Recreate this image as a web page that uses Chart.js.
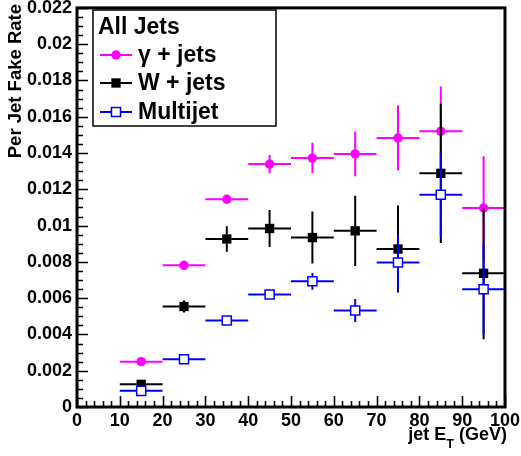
<!DOCTYPE html>
<html>
<head>
<meta charset="utf-8">
<script src="https://cdn.jsdelivr.net/npm/chart.js@4.4.0/dist/chart.umd.min.js"></script>
<style>
  html, body { margin: 0; padding: 0; background: #ffffff; }
  #c { display: block; }
</style>
</head>
<body>
<canvas id="c" width="521" height="456"></canvas>
<script>
// Jet ET bins (GeV): centres and half widths
const binCenters   = [15, 25, 35, 45, 55, 65, 75, 85, 95];
const binHalfWidth = [5, 5, 5, 5, 5, 5, 5, 5, 5];

// Per-jet fake rate and its uncertainty for each sample
const gammaRate  = [0.00250, 0.00781, 0.01145, 0.01339, 0.01372, 0.01395, 0.01483, 0.01520, 0.01097];
const gammaErr   = [0.00015, 0.00015, 0.00015, 0.00050, 0.00084, 0.00123, 0.00180, 0.00247, 0.00285];
const wRate      = [0.00125, 0.00554, 0.00926, 0.00984, 0.00934, 0.00971, 0.00871, 0.01288, 0.00737];
const wErr       = [0.00008, 0.00033, 0.00070, 0.00102, 0.00143, 0.00194, 0.00240, 0.00384, 0.00364];
const multiRate  = [0.00089, 0.00263, 0.00477, 0.00620, 0.00693, 0.00532, 0.00797, 0.01170, 0.00649];
const multiErr   = [0.00008, 0.00008, 0.00008, 0.00010, 0.00046, 0.00064, 0.00150, 0.00232, 0.00247];

const seriesLabels = ['\u03b3 + jets', 'W + jets', 'Multijet'];
const legendTitle  = 'All Jets';

const xTickLabels = ['0', '10', '20', '30', '40', '50', '60', '70', '80', '90', '100'];
const yTickLabels = ['0', '0.002', '0.004', '0.006', '0.008', '0.01', '0.012',
                     '0.014', '0.016', '0.018', '0.02', '0.022'];

const FONT = "'Liberation Sans', Arial, Helvetica, sans-serif";

function points(rates, errs) {
  return binCenters.map((x, i) => ({ x: x, y: rates[i], xe: binHalfWidth[i], ye: errs[i] }));
}

// Error bars drawn just before each dataset's markers; bars stop at the marker edge
const errorBars = {
  id: 'errorBars',
  beforeDatasetDraw(chart, args) {
    const ds = chart.data.datasets[args.index];
    const xs = chart.scales.x, ys = chart.scales.y;
    const ctx = chart.ctx;
    const gap = ds.barGap;
    ctx.save();
    ctx.strokeStyle = ds.barColor;
    ctx.lineWidth = 2;
    ctx.lineCap = 'butt';
    ds.data.forEach(p => {
      const cx = xs.getPixelForValue(p.x), cy = ys.getPixelForValue(p.y);
      const xl = xs.getPixelForValue(p.x - p.xe), xr = xs.getPixelForValue(p.x + p.xe);
      const yt = ys.getPixelForValue(p.y + p.ye), yb = ys.getPixelForValue(p.y - p.ye);
      ctx.beginPath();
      ctx.moveTo(xl, cy); ctx.lineTo(cx - gap, cy);
      ctx.moveTo(cx + gap, cy); ctx.lineTo(xr, cy);
      if (cy - yt > gap) {
        ctx.moveTo(cx, yt); ctx.lineTo(cx, cy - gap);
        ctx.moveTo(cx, cy + gap); ctx.lineTo(cx, yb);
      }
      ctx.stroke();
    });
    ctx.restore();
  }
};

// Frame, inward tick marks, axis titles and the legend box
const frameAndLegend = {
  id: 'frameAndLegend',
  afterDraw(chart) {
    const ctx = chart.ctx;
    const a = chart.chartArea;
    const xs = chart.scales.x, ys = chart.scales.y;
    ctx.save();

    // tick marks
    ctx.strokeStyle = '#000';
    ctx.lineWidth = 1.6;
    ctx.beginPath();
    for (let v = 0; v <= 100.0001; v += 2) {
      const px = Math.round(xs.getPixelForValue(v)) + 0.5;
      const major = Math.abs(v / 10 - Math.round(v / 10)) < 1e-6;
      ctx.moveTo(px, a.bottom);
      ctx.lineTo(px, a.bottom - (major ? 11 : 6));
    }
    for (let k = 0; k <= 44; k++) {
      const v = k * 0.0005;
      const py = Math.round(ys.getPixelForValue(v)) + 0.5;
      const major = k % 4 === 0;
      ctx.moveTo(a.left, py);
      ctx.lineTo(a.left + (major ? 11 : 6), py);
    }
    ctx.stroke();

    // frame
    ctx.lineWidth = 3;
    ctx.strokeRect(a.left, a.top, a.right - a.left, a.bottom - a.top);

    // x title with subscript
    ctx.fillStyle = '#000';
    ctx.textBaseline = 'alphabetic';
    const t1 = 'jet E', t3 = ' (GeV)';
    ctx.font = 'bold 12.5px ' + FONT;
    const wT = ctx.measureText('T').width;
    ctx.font = 'bold 18px ' + FONT;
    const w3 = ctx.measureText(t3).width;
    const w1 = ctx.measureText(t1).width;
    const xEnd = a.right + 2;
    const base = 440;
    ctx.textAlign = 'left';
    ctx.fillText(t3, xEnd - w3, base);
    ctx.fillText(t1, xEnd - w3 - wT - w1, base);
    ctx.font = 'bold 12.5px ' + FONT;
    ctx.fillText('T', xEnd - w3 - wT, base + 8);

    // y title
    ctx.save();
    ctx.translate(21, 4);
    ctx.rotate(-Math.PI / 2);
    ctx.font = 'bold 18.5px ' + FONT;
    ctx.textAlign = 'right';
    ctx.fillText('Per Jet Fake Rate', 0, 0);
    ctx.restore();

    // legend
    const L = { x: 93, y: 10, w: 183, h: 116 };
    ctx.fillStyle = '#fff';
    ctx.fillRect(L.x, L.y, L.w, L.h);
    ctx.lineWidth = 1.5;
    ctx.strokeStyle = '#000';
    ctx.strokeRect(L.x, L.y, L.w, L.h);
    ctx.fillStyle = '#000';
    ctx.font = 'bold 23px ' + FONT;
    ctx.textAlign = 'left';
    ctx.textBaseline = 'middle';
    ctx.fillText(legendTitle, 98, 28);
    const rows = [55, 83, 112];
    chart.data.datasets.forEach((ds, i) => {
      const y = rows[i];
      ctx.strokeStyle = ds.barColor;
      ctx.lineWidth = 2;
      ctx.beginPath();
      ctx.moveTo(100, y); ctx.lineTo(132, y);
      ctx.stroke();
      ctx.fillStyle = ds.backgroundColor;
      ctx.strokeStyle = ds.borderColor;
      ctx.lineWidth = ds.borderWidth;
      ctx.beginPath();
      if (ds.pointStyle === 'circle') {
        ctx.arc(116, y, ds.pointRadius, 0, Math.PI * 2);
        ctx.fill();
      } else {
        const s = ds.pointRadius * Math.SQRT1_2;
        ctx.rect(116 - s, y - s, 2 * s, 2 * s);
        ctx.fill();
        if (ds.borderWidth > 0) ctx.stroke();
      }
      ctx.fillStyle = '#000';
      ctx.font = 'bold 23px ' + FONT;
      ctx.fillText(ds.label, 138, y + 1);
    });

    ctx.restore();
  }
};

new Chart(document.getElementById('c'), {
  type: 'scatter',
  data: {
    datasets: [
      {
        label: seriesLabels[0], data: points(gammaRate, gammaErr), order: 3,
        pointStyle: 'circle', pointRadius: 4.7, pointHoverRadius: 4.7,
        backgroundColor: '#ff00ff', borderColor: '#ff00ff', borderWidth: 0,
        barColor: '#ff00ff', barGap: 4
      },
      {
        label: seriesLabels[1], data: points(wRate, wErr), order: 2,
        pointStyle: 'rect', pointRadius: 6.6, pointHoverRadius: 6.6,
        backgroundColor: '#000000', borderColor: '#000000', borderWidth: 0,
        barColor: '#000000', barGap: 4.5
      },
      {
        label: seriesLabels[2], data: points(multiRate, multiErr), order: 1,
        pointStyle: 'rect', pointRadius: 6.4, pointHoverRadius: 6.4,
        backgroundColor: '#ffffff', borderColor: '#0000ff', borderWidth: 1.5,
        barColor: '#0000ff', barGap: 4.5
      }
    ]
  },
  options: {
    responsive: false,
    animation: false,
    devicePixelRatio: 1,
    layout: { padding: { top: 6, right: 16, left: 0, bottom: 0 } },
    plugins: { legend: { display: false }, tooltip: { enabled: false } },
    scales: {
      x: {
        type: 'linear', min: 0, max: 100,
        grid: { display: false, drawTicks: false },
        border: { display: false },
        ticks: {
          stepSize: 10, padding: 3, color: '#000', maxRotation: 0, autoSkip: false,
          font: { family: FONT, size: 18, weight: 'bold' },
          callback: (v, i) => xTickLabels[i]
        },
        afterFit(s) { s.height = 49; s.paddingLeft = 0; s.paddingRight = 0; }
      },
      y: {
        type: 'linear', min: 0, max: 0.022,
        grid: { display: false, drawTicks: false },
        border: { display: false },
        ticks: {
          stepSize: 0.002, padding: 5, color: '#000', autoSkip: false,
          font: { family: FONT, size: 18, weight: 'bold' },
          callback: (v, i) => yTickLabels[i]
        },
        afterFit(s) { s.width = 77; s.paddingTop = 0; s.paddingBottom = 0; }
      }
    }
  },
  plugins: [errorBars, frameAndLegend]
});
</script>
</body>
</html>
